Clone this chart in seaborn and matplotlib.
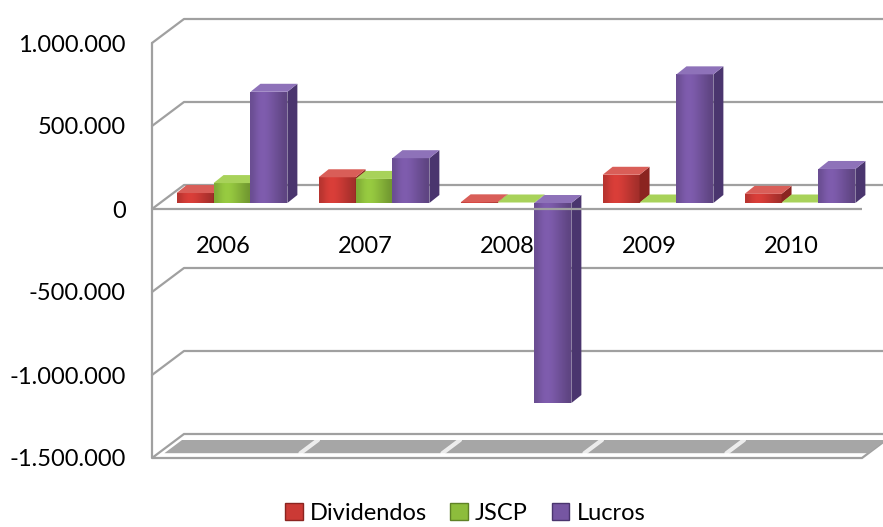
import numpy as np
import pandas as pd
import seaborn as sns
import matplotlib.pyplot as plt
from matplotlib.patches import Polygon, Patch
from matplotlib.lines import Line2D
from matplotlib.transforms import ScaledTranslation, IdentityTransform

# dados
anos = ['2006', '2007', '2008', '2009', '2010']
dividendos = [60000, 155000, 4000, 170000, 55000]
jscp = [120000, 145000, 3000, 3000, 3000]
lucros = [670000, 270000, -1205000, 775000, 205000]
series = ['Dividendos', 'JSCP', 'Lucros']
yticks = [1000000, 500000, 0, -500000, -1000000, -1500000]

cores = ['#cb3a35', '#8dbd3c', '#7656a2']
cores_lado = ['#8b2420', '#5f8226', '#4a356e']
cores_topo = ['#d95e58', '#a8d25a', '#8e72b9']

df = pd.DataFrame({'ano': anos * 3,
                   'serie': np.repeat(series, len(anos)),
                   'valor': dividendos + jscp + lucros})

sns.set_style('white')
plt.rcParams['font.family'] = ['Lato', 'DejaVu Sans']
plt.rcParams['text.color'] = 'black'
plt.rcParams['ytick.color'] = 'black'

fig = plt.figure(figsize=(8.83, 5.27), dpi=100)
ax = fig.add_axes([152 / 883, 69 / 527, 710 / 883, 415 / 527])

DX, DY = 32, 24   # profundidade das paredes (px)
BX, BY = 9, 6     # deslocamento das barras
PX, PY = 10, 8    # profundidade das barras
GRID = '#a0a0a0'

sns.barplot(data=df, x='ano', y='valor', hue='serie', palette=cores, width=0.78,
            saturation=1, ax=ax, legend=False, errorbar=None)

ax.set_xlim(-0.5, 4.5)
ax.set_ylim(-1500000, 1000000)
T = ax.transData.transform
ident = IdentityTransform()
W = fig.get_figwidth() * fig.dpi

# paredes (grade de fundo e lateral)
for v in yticks[:-1]:
    x0, y0 = T((-0.5, v))
    ax.add_line(Line2D([x0, x0 + DX, W], [y0, y0 + DY, y0 + DY], color=GRID, lw=1.6,
                       transform=ident, clip_on=False, zorder=0.5))
xa, ya = T((-0.5, yticks[0]))
xb, yb = T((-0.5, yticks[-1]))
ax.add_line(Line2D([xa, xb], [ya, yb], color=GRID, lw=1.6, transform=ident,
                   clip_on=False, zorder=0.5))

# piso
f0 = np.array(T((-0.5, yticks[-1])))
f1 = np.array(T((4.5, yticks[-1])))
d = np.array([DX, DY])
ax.add_patch(Polygon([f0, f1, f1 + d, f0 + d], closed=True, facecolor='white',
                     edgecolor=GRID, lw=1.6, transform=ident, clip_on=False, zorder=0.6))
a, b = 0.2, 0.75
ax.add_patch(Polygon([f0 + a * d + [6, 0], f1 + a * d, f1 + b * d, f0 + b * d + [6, 0]],
                     closed=True, facecolor='#a6a6a6', edgecolor='none',
                     transform=ident, clip_on=False, zorder=0.7))
for k in range(1, len(anos)):
    p = np.array(T((k - 0.5, yticks[-1])))
    ax.add_line(Line2D([p[0] + a * DX, p[0] + b * DX], [p[1] + a * DY, p[1] + b * DY],
                       color='white', lw=3, alpha=0.8, transform=ident, clip_on=False, zorder=0.8))

# barras com faces laterais e topo
off = ax.transData + ScaledTranslation(BX / fig.dpi, BY / fig.dpi, fig.dpi_scale_trans)
perfil = np.array([0.9, 1.0, 1.07, 1.08, 1.04, 0.98, 0.92, 0.86, 0.8])
for i, cont in enumerate(ax.containers):
    z = 2 + i * 0.1
    for bar in cont:
        x, w, h = bar.get_x(), bar.get_width(), bar.get_height()
        bar.set_transform(off)
        bar.set_zorder(z)
        bar.set_edgecolor('none')
        base = np.array(plt.matplotlib.colors.to_rgb(cores[i]))
        img = np.clip(perfil[None, :, None] * base[None, None, :], 0, 1)
        im = ax.imshow(img, extent=[x, x + w, min(0, h), max(0, h)], aspect='auto',
                       transform=off, zorder=z, interpolation='bicubic')
        im.set_clip_path(bar)
        x0, y0 = T((x, min(0, h)))
        x1, y1 = T((x + w, max(0, h)))
        x0, x1, y0, y1 = x0 + BX, x1 + BX, y0 + BY, y1 + BY
        ax.add_patch(Polygon([(x1, y0), (x1 + PX, y0 + PY), (x1 + PX, y1 + PY), (x1, y1)],
                             closed=True, facecolor=cores_lado[i], edgecolor='none',
                             transform=ident, clip_on=False, zorder=z))
        ax.add_patch(Polygon([(x0, y1), (x1, y1), (x1 + PX, y1 + PY), (x0 + PX, y1 + PY)],
                             closed=True, facecolor=cores_topo[i], edgecolor='none',
                             transform=ident, clip_on=False, zorder=z))

ax.set_xlim(-0.5, 4.5)
ax.set_ylim(-1500000, 1000000)

# linha do zero na frente
ax.axhline(0, color=GRID, lw=1.6, zorder=5)

for k, ano in enumerate(anos):
    ax.text(k, -225000, ano, ha='center', va='center', fontsize=17, color='black', zorder=6)

ax.set_yticks(yticks)
ax.set_yticklabels([f'{v:,}'.replace(',', '.') for v in yticks], fontsize=17, color='black')
ax.set_xticks([])
ax.tick_params(axis='y', length=0, pad=19)
ax.set_xlabel('')
ax.set_ylabel('')
for s in ax.spines.values():
    s.set_visible(False)

handles = [Patch(facecolor=cores[i], edgecolor=cores_lado[i]) for i in range(3)]
fig.legend(handles, series, loc='center', bbox_to_anchor=(465 / 883, 1 - 513 / 527),
           ncol=3, frameon=False, fontsize=17, handlelength=0.75, handleheight=0.75,
           handletextpad=0.3, columnspacing=1.0, labelcolor='black')

fig.savefig('out.png', dpi=100)
